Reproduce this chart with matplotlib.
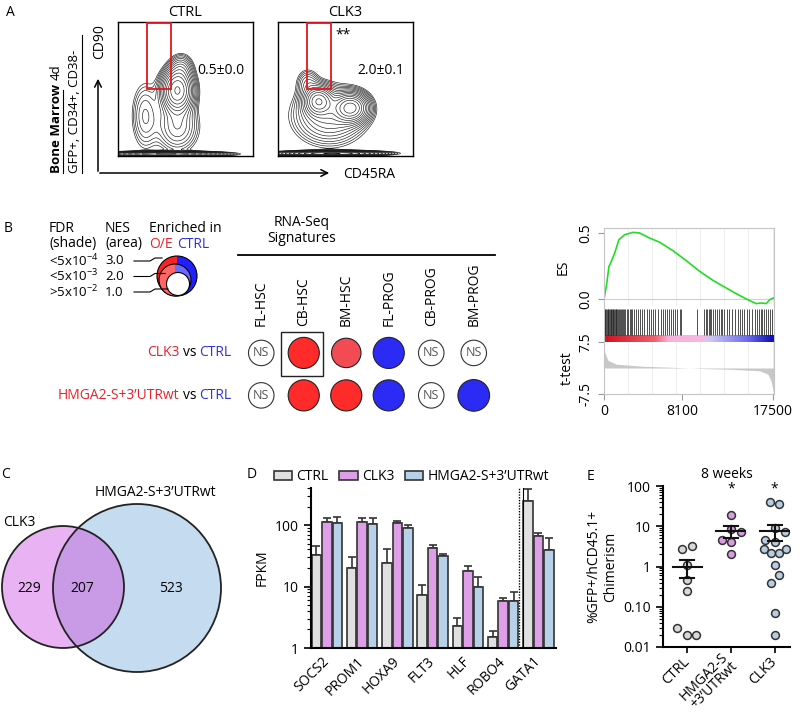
import numpy as np
import matplotlib
matplotlib.use('Agg')
import matplotlib.pyplot as plt
from matplotlib.patches import Circle, Rectangle, Wedge, Patch
from matplotlib.colors import LinearSegmentedColormap
from matplotlib.ticker import LogLocator, NullFormatter

plt.rcParams['font.family'] = ['Open Sans', 'DejaVu Sans']
plt.rcParams['mathtext.fontset'] = 'custom'
plt.rcParams['mathtext.rm'] = 'Open Sans'
plt.rcParams['mathtext.default'] = 'rm'
plt.rcParams['font.size'] = 10

W, H = 800, 719

# ---- A: flow plots ----
flow_titles = ['CTRL', 'CLK3']
flow_gate_pct = ['0.5±0.0', '2.0±0.1']
# density blobs: cx, cy, sx, sy, weight (axes fraction)
ctrl_blobs = [(0.44, 0.49, 0.065, 0.09, 1.0),
              (0.47, 0.66, 0.05, 0.06, 0.15),
              (0.20, 0.30, 0.06, 0.15, 0.14),
              (0.44, 0.22, 0.09, 0.11, 0.22),
              (0.35, 0.015, 0.22, 0.01, 1.0)]
clk3_blobs = [(0.30, 0.41, 0.06, 0.06, 0.85),
              (0.54, 0.36, 0.07, 0.06, 1.0),
              (0.38, 0.30, 0.15, 0.12, 0.3),
              (0.22, 0.55, 0.05, 0.06, 0.12),
              (0.40, 0.02, 0.20, 0.01, 1.0)]

# ---- B: GSEA summary ----
signatures = ['FL-HSC', 'CB-HSC', 'BM-HSC', 'FL-PROG', 'CB-PROG', 'BM-PROG']
comparisons = ['CLK3', 'HMGA2-S+3’UTRwt']
# +1 enriched in O/E, -1 enriched in CTRL, 0 = NS
direction = [[0, 1, 1, -1, 0, 0],
             [0, 1, 1, -1, 0, -1]]
nes = [[0, 2.9, 2.6, 2.9, 0, 0],
       [0, 2.9, 2.9, 2.9, 0, 3.0]]
fdr_level = [[2, 0, 1, 0, 2, 2],
             [2, 0, 0, 0, 2, 0]]
legend_fdr = ['<5x10$^{-4}$', '<5x10$^{-3}$', '>5x10$^{-2}$']
legend_nes = ['3.0', '2.0', '1.0']

# GSEA enrichment plot
n_genes = 17650
es_rank = [0, 242, 519, 761, 1107, 1557, 2145, 3010, 3700, 4740, 5780, 7160,
           8550, 9930, 11315, 12700, 13740, 14775, 15290, 15810, 16330, 16850,
           17200, 17600]
es_value = [0, 0.096, 0.247, 0.285, 0.348, 0.45, 0.487, 0.505, 0.5, 0.462,
            0.43, 0.366, 0.29, 0.21, 0.141, 0.083, 0.04, 0.0, -0.018, -0.035,
            -0.03, -0.035, -0.005, 0.008]
hit_ranks = [60, 150, 230, 300, 380, 450, 520, 600, 680, 760, 830, 900, 980,
             1050, 1130, 1200, 1290, 1380, 1470, 1560, 1650, 1740, 1830, 1950,
             2080, 2200, 2350, 2500, 2650, 2800, 2950, 3150, 3350, 3550, 3750,
             3950, 4200, 4450, 4650, 4850, 5050, 5300, 5600, 5900, 6150, 6350,
             6550, 6750, 6950, 7150, 7350, 7600, 7900, 8000, 9650, 10400,
             10550, 10700, 10850, 11000, 11150, 11300, 11500, 11700, 11900,
             12100, 12300, 12500, 12750, 13000, 13300, 13600, 13900, 14100,
             14300, 14550, 14800, 15100, 15400, 15650, 15850, 16050, 16250,
             16450, 16650, 16850, 17050, 17250, 17450]
metric_rank = [0, 415, 1280, 4050, 8030, 10280, 13400, 16160, 17020, 17370, 17620]
metric_value = [5.1, 2.2, 1.1, 0.5, 0.1, -0.15, -0.4, -0.8, -1.8, -4.0, -7.3]

# ---- C: Venn ----
venn_counts = [229, 207, 523]
venn_labels = ['CLK3', 'HMGA2-S+3’UTRwt']

# ---- D: FPKM ----
genes = ['SOCS2', 'PROM1', 'HOXA9', 'FLT3', 'HLF', 'ROBO4', 'GATA1']
fpkm_groups = ['CTRL', 'CLK3', 'HMGA2-S+3’UTRwt']
fpkm_ctrl = [32.8, 20, 24.5, 7.4, 2.26, 1.5, 245]
fpkm_ctrl_err = [12.9, 10, 16.5, 3.0, 0.8, 0.4, 135]
fpkm_clk3 = [112, 112, 107, 42.6, 18, 5.9, 66]
fpkm_clk3_err = [18, 18, 9, 5.4, 3.8, 0.5, 8]
fpkm_hmga2 = [108, 104, 89, 31.6, 10, 5.9, 39.6]
fpkm_hmga2_err = [26, 26, 11, 2.4, 4.5, 2.1, 22]

# ---- E: chimerism at 8 weeks ----
chim_groups = ['CTRL', 'HMGA2-S\n+3’UTRwt', 'CLK3']
chim_ctrl = [2.8, 3.2, 1.1, 0.47, 0.25, 0.03, 0.02, 0.02]
chim_hmga2 = [18.8, 8.4, 4.5, 7.1, 4.0, 2.0]
chim_clk3 = [40, 35, 8.9, 7.1, 4.0, 4.5, 2.7, 2.2, 2.2, 2.8, 1.06, 0.63,
             0.38, 0.07, 0.02]
jit_ctrl = [-0.11, 0.11, 0, 0, 0, -0.23, 0, 0.2]
jit_hmga2 = [0, 0, -0.2, 0.23, 0, 0]
jit_clk3 = [-0.11, 0.11, 0, 0.23, 0, -0.23, -0.25, -0.09, 0.09, 0.27, 0,
            0.11, -0.09, 0, 0]

RED = ['#ff2b2b', '#f24b53']
BLUE = ['#2b2bf5', '#5858f0']
C_CTRL, C_CLK3, C_HMGA = '#e0e0e0', '#df9fe8', '#b6d1e8'

fig = plt.figure(figsize=(W / 100, H / 100), dpi=100)


def px_axes(x0, y0, x1, y1):
    return fig.add_axes([x0 / W, 1 - y1 / H, (x1 - x0) / W, (y1 - y0) / H])


bg = fig.add_axes([0, 0, 1, 1])
bg.set_xlim(0, W)
bg.set_ylim(H, 0)
bg.axis('off')

for lab, (x, y) in zip('ABCDE', [(10, 12), (8, 228), (5, 474), (252, 474), (590, 476)]):
    bg.text(x, y, lab, ha='center', va='center', fontsize=10)

# ---- A ----
gx = np.linspace(0, 1, 260)
GX, GY = np.meshgrid(gx, gx)
for (x0, x1), blobs, title, pct, star in zip([(118, 253), (278, 413)],
                                             [ctrl_blobs, clk3_blobs],
                                             flow_titles, flow_gate_pct, ['', '**']):
    ax = px_axes(x0, 22, x1, 156)
    Z = np.zeros_like(GX)
    for cx, cy, sx, sy, w in blobs:
        Z += w * np.exp(-((GX - cx) ** 2 / (2 * sx ** 2) + (GY - cy) ** 2 / (2 * sy ** 2)))
    ax.contour(GX, GY, Z, levels=np.geomspace(0.04, 0.97, 14),
               colors='#1a1a1a', linewidths=0.45)
    ax.add_patch(Rectangle((0.215, 0.5), 0.175, 0.49, fill=False, ec='#e8141b',
                           lw=1.3, transform=ax.transAxes, zorder=5))
    ax.text(0.76, 0.64, pct, transform=ax.transAxes, ha='center', va='center')
    if star:
        ax.text(0.48, 0.9, star, transform=ax.transAxes, ha='center', va='center')
    ax.set_xlim(0, 1)
    ax.set_ylim(0, 1)
    ax.set_xticks([])
    ax.set_yticks([])
    for s in ax.spines.values():
        s.set_linewidth(1.0)
    ax.set_title(title, fontsize=10.5, pad=4)

bg.annotate('', xy=(98, 76), xytext=(98, 174),
            arrowprops=dict(arrowstyle='->', lw=1.1, color='k', mutation_scale=12))
bg.annotate('', xy=(332, 173), xytext=(97, 173),
            arrowprops=dict(arrowstyle='->', lw=1.1, color='k', mutation_scale=12))
bg.text(100, 42, 'CD90', rotation=90, ha='center', va='center')
bg.text(343, 174, 'CD45RA', ha='left', va='center')
bg.text(56, 173, 'Bone Marrow', rotation=90, ha='left', va='center',
        rotation_mode='anchor', fontweight='bold', fontsize=9.5)
bg.text(56, 80, '4d', rotation=90, ha='left', va='center', rotation_mode='anchor',
        fontsize=9.5)
bg.plot([63, 63], [173, 90], color='k', lw=0.8)
bg.text(75, 173, 'GFP+, CD34+, CD38-', rotation=90, ha='left', va='center',
        rotation_mode='anchor', fontsize=9.5)
bg.plot([82, 82], [173, 35], color='k', lw=0.8)

# ---- B legend ----
bg.text(49, 229, 'FDR', va='center')
bg.text(49, 244, '(shade)', va='center')
bg.text(105, 229, 'NES', va='center')
bg.text(105, 244, '(area)', va='center')
bg.text(149, 229, 'Enriched in', va='center')
bg.text(149, 244, 'O/E', va='center', color='#e8222a')
bg.text(177, 244, 'CTRL', va='center', color='#3030e0')
for i, (f, n) in enumerate(zip(legend_fdr, legend_nes)):
    y = 261 + 15.5 * i
    bg.text(49, y, f, va='center', fontsize=9.5)
    bg.text(105, y, n, va='center', fontsize=9.5)
    bg.plot([134, 150, 155, 162 + 3 * i], [y, y, y - 3, y - 3], color='k', lw=0.8)
for (cx, cy, r), k in zip([(177, 276, 20), (175, 280, 16)], [0, 1]):
    bg.add_patch(Wedge((cx, cy), r, 90, 270, fc=['#ff2020', '#ff6666'][k], ec='none'))
    bg.add_patch(Wedge((cx, cy), r, 270, 90, fc=['#2020ff', '#6a6aff'][k], ec='none'))
    bg.add_patch(Circle((cx, cy), r, fill=False, ec='k', lw=0.8))
bg.add_patch(Circle((178, 284), 11.5, fc='white', ec='k', lw=0.8))

bg.text(302, 222, 'RNA-Seq', ha='center', va='center')
bg.text(302, 238, 'Signatures', ha='center', va='center')
bg.plot([238, 495], [255, 255], color='k', lw=1.3)

ax_b = px_axes(240, 330, 495, 420)
ax_b.set_xlim(-0.5, 5.5)
ax_b.set_ylim(1.58, -0.54)
ax_b.axis('off')
for j, name in enumerate(signatures):
    ax_b.text(j, -0.635, name, rotation=90, ha='left', va='center', rotation_mode='anchor')
for i, comp in enumerate(comparisons):
    ax_b.text(-1.935, i, comp, ha='right', va='center', color='#e8222a')
    ax_b.text(-1.69, i, 'vs', ha='center', va='center')
    ax_b.text(-1.465, i, 'CTRL', ha='left', va='center', color='#3030e0')
    for j in range(len(signatures)):
        d = direction[i][j]
        if d == 0:
            ax_b.add_patch(Circle((j, i), 0.30, fc='white', ec='#333333', lw=0.8))
            ax_b.text(j, i, 'NS', ha='center', va='center', color='#555555', fontsize=9)
        else:
            col = (RED if d > 0 else BLUE)[fdr_level[i][j]]
            ax_b.add_patch(Circle((j, i), 0.215 * np.sqrt(nes[i][j]), fc=col,
                                  ec='#222222', lw=0.8))
ax_b.add_patch(Rectangle((0.46, -0.49), 1.0, 1.03, fill=False, ec='#222222', lw=1.0))

# ---- B GSEA plot ----
ax_es = px_axes(604, 228, 774, 306)
ax_hit = px_axes(604, 306, 774, 342)
ax_t = px_axes(604, 342, 774, 394)
grid_x = np.arange(2500, n_genes, 2500)
for ax in (ax_es, ax_hit, ax_t):
    ax.set_xlim(0, n_genes)
    for s in ax.spines.values():
        s.set_color('#c4c4c4')
    ax.tick_params(color='#999999', length=4)
for ax in (ax_es, ax_t):
    for gxv in grid_x:
        ax.axvline(gxv, color='#eeeeee', lw=0.7, zorder=0)
ax_es.axhline(0, color='#d0d0d0', lw=0.8, zorder=1)
ax_es.plot(es_rank, es_value, color='#22dd22', lw=1.2)
ax_es.set_ylim(-0.053, 0.538)
ax_es.set_xticks([])
ax_es.set_yticks([0, 0.5])
ax_es.set_yticklabels(['0.0', '0.5'], rotation=90, va='center')
ax_es.set_ylabel('ES', labelpad=6)
ax_es.spines['bottom'].set_visible(False)

ax_hit.vlines(hit_ranks, 0.194, 0.917, color='#222222', lw=0.7, alpha=0.8)
cm = LinearSegmentedColormap.from_list('rank', [(0, '#d0101e'), (0.3, '#f06070'),
                                                (0.38, '#f8b0d8'), (0.58, '#f8b8e4'),
                                                (0.62, '#d0c8f4'), (0.85, '#6a6ae8'),
                                                (1.0, '#0a0ab8')])
ax_hit.imshow(np.linspace(0, 1, 256)[None, :], extent=(0, n_genes, 0, 0.194),
              aspect='auto', cmap=cm)
ax_hit.set_xlim(0, n_genes)
ax_hit.set_ylim(0, 1)
ax_hit.set_xticks([])
ax_hit.set_yticks([])
ax_hit.spines['top'].set_visible(False)
ax_hit.spines['bottom'].set_visible(False)

ax_t.fill_between(metric_rank, metric_value, 0, color='#c8c8c8', lw=0)
ax_t.set_ylim(-7.5, 7.5)
ax_t.set_yticks([-7.5, 7.5])
ax_t.set_yticklabels(['-7.5', '7.5'], rotation=90, va='center')
ax_t.set_xticks([0, 8100, 17500])
ax_t.set_xticklabels(['0', '8100', '17500'])
ax_t.set_ylabel('t-test', labelpad=3)
ax_t.spines['top'].set_visible(False)

# ---- C Venn ----
pink = Circle((63, 587), 61, fc='#e9b3f3', ec='none')
blue = Circle((137, 588), 84, fc='#c5dcf0', ec='none')
bg.add_patch(pink)
bg.add_patch(blue)
over = Circle((63, 587), 61, fc='#c99be6', ec='none')
bg.add_patch(over)
over.set_clip_path(blue)
bg.add_patch(Circle((63, 587), 61, fill=False, ec='#222222', lw=1.3))
bg.add_patch(Circle((137, 588), 84, fill=False, ec='#222222', lw=1.3))
bg.text(3, 522, venn_labels[0], ha='left', va='center')
bg.text(155, 492, venn_labels[1], ha='center', va='center')
for cnt, x in zip(venn_counts, [29, 82, 171]):
    bg.text(x, 588, str(cnt), ha='center', va='center')

# ---- D FPKM bars ----
ax_d = px_axes(311, 488, 556, 648)
ax_d.set_yscale('log')
xg = np.arange(len(genes))
for off, vals, errs, col in zip([-0.3, 0, 0.3],
                                [fpkm_ctrl, fpkm_clk3, fpkm_hmga2],
                                [fpkm_ctrl_err, fpkm_clk3_err, fpkm_hmga2_err],
                                [C_CTRL, C_CLK3, C_HMGA]):
    ax_d.bar(xg + off, vals, 0.27, color=col, edgecolor='#333333', lw=1.2, zorder=2)
    ax_d.errorbar(xg + off, vals, yerr=[np.zeros(len(vals)), errs], fmt='none',
                  ecolor='#333333', elinewidth=1.2, capsize=3, capthick=1.2, zorder=1)
ax_d.axvline(5.45, color='k', ls=(0, (1, 1)), lw=1)
ax_d.axvline(5.55, color='k', lw=0.8)
ax_d.set_ylim(1, 400)
ax_d.set_xlim(-0.45, 6.5)
ax_d.set_yticks([1, 10, 100])
ax_d.set_yticklabels(['1', '10', '100'])
ax_d.yaxis.set_minor_locator(LogLocator(subs=np.arange(2, 10)))
ax_d.yaxis.set_minor_formatter(NullFormatter())
ax_d.set_xticks(xg)
ax_d.set_xticklabels(genes, rotation=45, ha='right', va='center', rotation_mode='anchor')
ax_d.tick_params(axis='x', length=0, pad=8)
ax_d.tick_params(axis='y', which='major', length=5, width=1.2)
ax_d.tick_params(axis='y', which='minor', length=3, width=0.8)
ax_d.set_ylabel('FPKM', labelpad=4)
for s in ['top', 'right']:
    ax_d.spines[s].set_visible(False)
for s in ['left', 'bottom']:
    ax_d.spines[s].set_linewidth(1.5)
handles = [Patch(fc=c, ec='#333333', lw=1.2) for c in [C_CTRL, C_CLK3, C_HMGA]]
ax_d.legend(handles, fpkm_groups, ncol=3, loc='lower left',
            bbox_to_anchor=(274 / W, 1 - 484 / H), bbox_transform=fig.transFigure,
            frameon=False, handlelength=1.3, handleheight=0.6, columnspacing=0.8,
            handletextpad=0.3, borderaxespad=0, borderpad=0, fontsize=10)

# ---- E chimerism ----
ax_e = px_axes(663, 486, 790, 647)
ax_e.set_yscale('log')
for k, (vals, jit, col) in enumerate(zip([chim_ctrl, chim_hmga2, chim_clk3],
                                         [jit_ctrl, jit_hmga2, jit_clk3],
                                         ['#d9d9d9', '#d99be3', '#b7cde2'])):
    ax_e.scatter(k + np.array(jit), vals, s=32, fc=col, ec='#333333', lw=1.1, zorder=2)
    v = np.array(vals)
    m = v.mean()
    sem = v.std(ddof=1) / np.sqrt(len(v))
    ax_e.plot([k - 0.33, k + 0.33], [m, m], color='#111111', lw=1.5, zorder=3)
    ax_e.plot([k, k], [m - sem, m + sem], color='#111111', lw=1.5, zorder=3)
    for yv in (m - sem, m + sem):
        ax_e.plot([k - 0.16, k + 0.16], [yv, yv], color='#111111', lw=1.5, zorder=3)
    if k > 0:
        ax_e.text(k, 84, '*', ha='center', va='center')
ax_e.set_ylim(0.01, 100)
ax_e.set_xlim(-0.55, 2.35)
ax_e.set_yticks([0.01, 0.1, 1, 10, 100])
ax_e.set_yticklabels(['0.01', '0.10', '1', '10', '100'])
ax_e.yaxis.set_minor_locator(LogLocator(subs=np.arange(2, 10)))
ax_e.yaxis.set_minor_formatter(NullFormatter())
ax_e.set_xticks([0, 1, 2])
ax_e.set_xticklabels(chim_groups, rotation=45, ha='right', va='center',
                     rotation_mode='anchor', linespacing=0.9)
ax_e.tick_params(axis='x', length=4, width=1.2, pad=5)
ax_e.tick_params(axis='y', which='major', length=5, width=1.2)
ax_e.tick_params(axis='y', which='minor', length=3, width=0.8)
ax_e.set_ylabel('%GFP+/hCD45.1+\nChimerism', labelpad=4)
ax_e.set_title('8 weeks', fontsize=10, pad=6)
for s in ['top', 'right']:
    ax_e.spines[s].set_visible(False)
for s in ['left', 'bottom']:
    ax_e.spines[s].set_linewidth(1.5)

fig.savefig('out.png', dpi=100)
